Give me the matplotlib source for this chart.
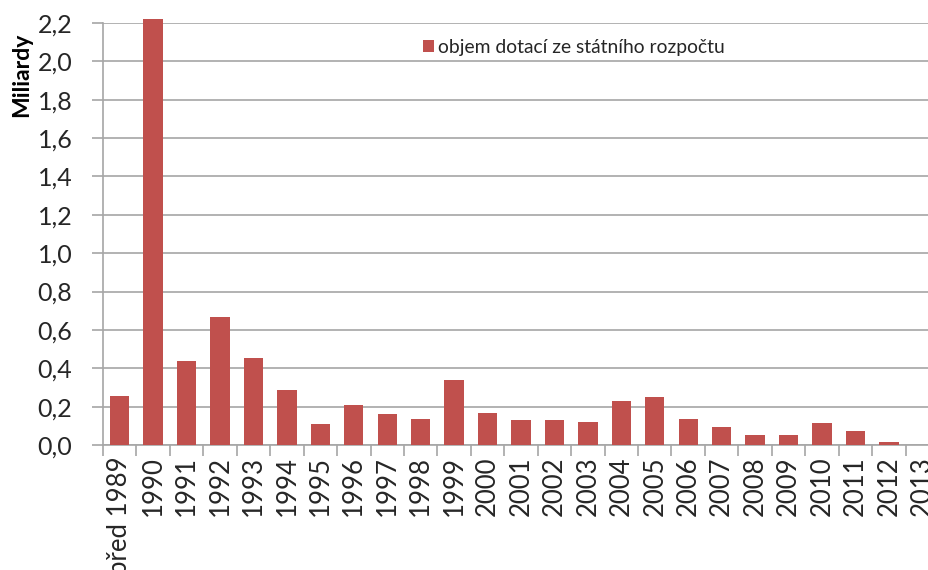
import matplotlib
matplotlib.use("Agg")
import matplotlib.pyplot as plt
from matplotlib.patches import Patch

categories = ["před 1989", "1990", "1991", "1992", "1993", "1994", "1995", "1996",
              "1997", "1998", "1999", "2000", "2001", "2002", "2003", "2004", "2005",
              "2006", "2007", "2008", "2009", "2010", "2011", "2012", "2013"]
values = [0.255, 2.22, 0.436, 0.667, 0.454, 0.288, 0.108, 0.209, 0.162, 0.134, 0.340,
          0.168, 0.129, 0.129, 0.122, 0.229, 0.249, 0.134, 0.094, 0.054, 0.054, 0.115,
          0.075, 0.016, 0.0]
series_name = "objem dotací ze státního rozpočtu"
y_ticks = [0.0, 0.2, 0.4, 0.6, 0.8, 1.0, 1.2, 1.4, 1.6, 1.8, 2.0, 2.2]
y_label = "Miliardy"

bar_color = "#C0504D"
grid_color = "#A6A6A6"
text_color = "#262626"

plt.rcParams['font.family'] = ['Lato', 'DejaVu Sans']

fig = plt.figure(figsize=(9.29, 5.70), dpi=100)
ax = fig.add_axes([103/929, 1-445/570, 836/929, (445-23)/570])

x = list(range(len(categories)))
bars = ax.bar(x, values, width=0.58, color=bar_color, zorder=3)
for b in bars:
    b.set_clip_on(False)

ax.set_xlim(-0.5, len(categories) - 0.5)
ax.set_ylim(0, 2.2)
ax.set_yticks(y_ticks)
ax.set_yticklabels([f"{v:.1f}".replace(".", ",") for v in y_ticks], fontsize=18,
                   color=text_color)
ax.yaxis.grid(True, color=grid_color, linewidth=1.2, zorder=0)

ax.set_xticks([i - 0.5 for i in range(len(categories) + 1)], minor=False)
ax.set_xticklabels([])
ax.set_xticks(x, minor=True)
ax.set_xticklabels(categories, minor=True, rotation=90, fontsize=18.5, color=text_color)
ax.tick_params(axis='x', which='minor', length=0, pad=8)
ax.tick_params(axis='x', which='major', length=8, color=grid_color, width=1.2)
ax.tick_params(axis='y', length=8, color=grid_color, width=1.2, pad=14)

for s in ['top', 'right']:
    ax.spines[s].set_visible(False)
for s in ['left', 'bottom']:
    ax.spines[s].set_color(grid_color)
    ax.spines[s].set_linewidth(1.2)

fig.text(22/929, 1-75/570, y_label, rotation=90, fontsize=16.5, fontweight='bold',
         ha='center', va='center', color='black')

handle = Patch(facecolor=bar_color, edgecolor='none')
fig.legend([handle], [series_name], loc='center left', bbox_to_anchor=(413/929, 1-47/570),
           frameon=False, fontsize=13.9, handlelength=0.6, handleheight=0.6,
           handletextpad=0.2, borderpad=0, labelcolor=text_color)

fig.savefig("out.png", dpi=100)
